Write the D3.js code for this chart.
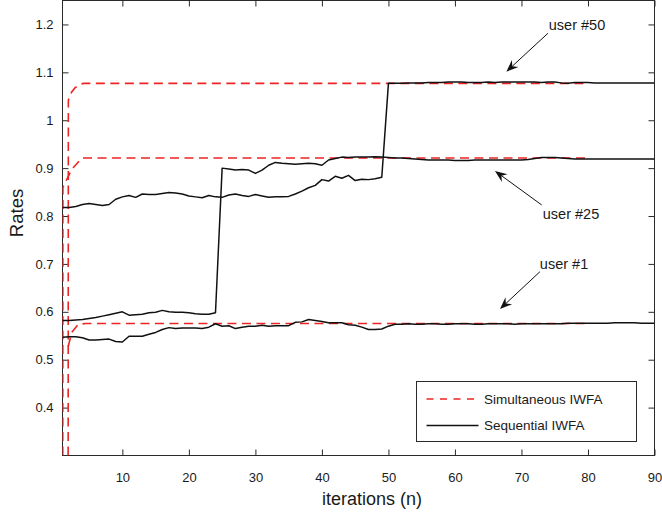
<!DOCTYPE html>
<html><head><meta charset="utf-8">
<script src="https://cdn.jsdelivr.net/npm/d3@7"></script>
<style>
body{margin:0;background:#fff;}
text{font-family:"Liberation Sans",Arial,Helvetica,sans-serif;fill:#1a1a1a;}
</style>
</head><body>
<svg id="chart" width="662" height="518"></svg>
<script>
// ---------- data ----------
const iterations = d3.range(1, 91);

const seqUser1 = [
0.547,0.548,0.548,0.546,0.541,0.541,0.542,0.543,0.538,0.537,
0.549,0.549,0.549,0.553,0.557,0.563,0.567,0.565,0.566,0.566,
0.566,0.565,0.568,0.575,0.570,0.571,0.565,0.568,0.570,0.570,
0.572,0.570,0.571,0.571,0.571,0.578,0.579,0.584,0.582,0.580,
0.577,0.577,0.577,0.573,0.572,0.568,0.563,0.563,0.564,0.570,
0.574,0.574,0.575,0.574,0.574,0.575,0.575,0.574,0.574,0.575,
0.575,0.575,0.574,0.574,0.575,0.575,0.575,0.575,0.574,0.575,
0.575,0.575,0.575,0.575,0.575,0.575,0.576,0.576,0.576,0.576,
0.576,0.576,0.576,0.577,0.577,0.577,0.577,0.576,0.576,0.576];

const seqUser25 = [
0.582,0.582,0.583,0.584,0.586,0.588,0.591,0.594,0.597,0.600,
0.593,0.594,0.595,0.598,0.599,0.603,0.600,0.599,0.599,0.598,
0.596,0.595,0.595,0.598,0.900,0.898,0.896,0.897,0.896,0.889,
0.896,0.906,0.912,0.910,0.909,0.908,0.909,0.910,0.909,0.906,
0.917,0.920,0.923,0.922,0.923,0.923,0.923,0.924,0.923,0.922,
0.921,0.921,0.920,0.919,0.918,0.917,0.917,0.917,0.917,0.916,
0.916,0.916,0.917,0.917,0.917,0.917,0.917,0.917,0.917,0.917,
0.918,0.920,0.922,0.922,0.922,0.921,0.920,0.919,0.919,0.919,
0.919,0.919,0.919,0.919,0.919,0.919,0.919,0.919,0.919,0.919];

const seqUser50 = [
0.818,0.818,0.820,0.824,0.826,0.824,0.822,0.824,0.835,0.840,
0.843,0.839,0.846,0.845,0.845,0.847,0.849,0.848,0.846,0.842,
0.840,0.838,0.843,0.840,0.839,0.844,0.846,0.843,0.841,0.845,
0.842,0.839,0.840,0.840,0.841,0.846,0.852,0.859,0.864,0.876,
0.873,0.883,0.879,0.885,0.874,0.877,0.876,0.878,0.881,1.077,
1.077,1.077,1.078,1.078,1.078,1.079,1.079,1.079,1.080,1.080,
1.080,1.079,1.079,1.079,1.080,1.079,1.080,1.080,1.080,1.080,
1.080,1.080,1.079,1.080,1.080,1.078,1.077,1.079,1.079,1.079,
1.078,1.078,1.078,1.078,1.078,1.078,1.078,1.078,1.078,1.078];

// Simultaneous IWFA (red dashed): x positions and values
const simX1  = [1.87, 2.38, 3.37, 4.5, 80];
const simUser1  = [0.528, 0.557, 0.574, 0.5755, 0.5755];
const simX25 = [1.04, 1.06, 1.63, 2.38, 3.9, 80];
const simUser25 = [0.30, 0.86, 0.876, 0.897, 0.921, 0.921];
const simX50 = [1.85, 1.88, 2.38, 2.9, 4.1, 80];
const simUser50 = [0.30, 1.042, 1.059, 1.068, 1.077, 1.077];

const xTicks = [10, 20, 30, 40, 50, 60, 70, 80, 90];
const yTicks = [0.4, 0.5, 0.6, 0.7, 0.8, 0.9, 1.0, 1.1, 1.2];
const yTickLabels = ["0.4","0.5","0.6","0.7","0.8","0.9","1","1.1","1.2"];

const legendLabels = ["Simultaneous IWFA", "Sequential IWFA"];

const annotationLabels = ["user #50", "user #25", "user #1"];
const annotationTextX = [78.35, 77.45, 76.4];
const annotationTextY = [1.1875, 0.7928, 0.6895];
const arrowFromX = [73.98, 73.04, 72.78];
const arrowFromY = [1.1816, 0.8231, 0.6838];
const arrowToX   = [67.73, 66.02, 66.77];
const arrowToY   = [1.1014, 0.8941, 0.6059];

// ---------- chart ----------
const L = 62.5, R = 654.5, T = 0.5, B = 455.5;
const svg = d3.select("#chart");
const x = d3.scaleLinear().domain([1, 90]).range([L, R]);
const y = d3.scaleLinear().domain([0.3, 1.25]).range([B, T]);

svg.append("defs").append("clipPath").attr("id","clip")
  .append("rect").attr("x", L).attr("y", T).attr("width", R-L).attr("height", B-T);

const frameColor = "#2a2a2a";
svg.append("rect").attr("x", L).attr("y", T).attr("width", R-L).attr("height", B-T)
  .attr("fill","none").attr("stroke", frameColor).attr("stroke-width", 1);

const tickLen = 6;
const gx = svg.append("g").attr("transform", `translate(0,${B})`)
  .call(d3.axisBottom(x).tickValues(xTicks).tickSizeInner(-tickLen).tickSizeOuter(0).tickPadding(17).tickFormat(d3.format("d")));
const gxTop = svg.append("g").attr("transform", `translate(0,${T})`)
  .call(d3.axisTop(x).tickValues(xTicks).tickSizeInner(-tickLen).tickSizeOuter(0).tickFormat(""));
const gy = svg.append("g").attr("transform", `translate(${L},0)`)
  .call(d3.axisLeft(y).tickValues(yTicks).tickSizeInner(-tickLen).tickSizeOuter(0).tickPadding(9)
    .tickFormat((d,i) => yTickLabels[i]));
const gyR = svg.append("g").attr("transform", `translate(${R},0)`)
  .call(d3.axisRight(y).tickValues(yTicks).tickSizeInner(-tickLen).tickSizeOuter(0).tickFormat(""));
[gx, gxTop, gy, gyR].forEach(g => {
  g.select(".domain").remove();
  g.selectAll(".tick line").attr("stroke", frameColor).attr("stroke-width", 1);
  g.selectAll(".tick text").attr("font-size", "13px").attr("fill", "#1a1a1a")
    .style("font-family", '"Liberation Sans", Arial, sans-serif');
});
gx.selectAll(".tick text").attr("dy", "0.71em");

svg.append("text").attr("x", 372).attr("y", 505).attr("text-anchor","middle")
  .attr("font-size","18px").text("iterations (n)");
svg.append("text").attr("transform","translate(23,213) rotate(-90)").attr("text-anchor","middle")
  .attr("font-size","18.5px").text("Rates");

const plot = svg.append("g").attr("clip-path","url(#clip)");
const line = d3.line().x(d => x(d[0])).y(d => y(d[1]));
const red = "#ee2424", black = "#111111";

[[simX1, simUser1], [simX25, simUser25], [simX50, simUser50]].forEach(([xs, vs]) => {
  plot.append("path").datum(xs.map((v,i) => [v, vs[i]]))
    .attr("d", line).attr("fill","none").attr("stroke", red)
    .attr("stroke-width", 1.6).attr("stroke-dasharray","9,5.5");
});
[seqUser1, seqUser25, seqUser50].forEach(vs => {
  plot.append("path").datum(iterations.map((it,i) => [it, vs[i]]))
    .attr("d", line).attr("fill","none").attr("stroke", black)
    .attr("stroke-width", 1.5).attr("stroke-linejoin","round");
});

annotationLabels.forEach((lab, i) => {
  svg.append("text").attr("x", x(annotationTextX[i])).attr("y", y(annotationTextY[i]))
    .attr("text-anchor","middle").attr("font-size","14.5px").text(lab);
  const x1 = x(arrowFromX[i]), y1 = y(arrowFromY[i]);
  const x2 = x(arrowToX[i]), y2 = y(arrowToY[i]);
  const ang = Math.atan2(y2 - y1, x2 - x1);
  const hl = 12, hw = 4.8, back = 8;
  const bx = x2 - hl*Math.cos(ang), by = y2 - hl*Math.sin(ang);
  const nx = x2 - back*Math.cos(ang), ny = y2 - back*Math.sin(ang);
  svg.append("line").attr("x1", x1).attr("y1", y1).attr("x2", nx).attr("y2", ny)
    .attr("stroke", black).attr("stroke-width", 1);
  const px = -Math.sin(ang), py = Math.cos(ang);
  svg.append("path").attr("d",
    `M${x2},${y2}L${bx+hw*px},${by+hw*py}L${nx},${ny}L${bx-hw*px},${by-hw*py}Z`)
    .attr("fill", black);
});

const lg = svg.append("g");
lg.append("rect").attr("x", 416.5).attr("y", 381.5).attr("width", 220).attr("height", 60)
  .attr("fill","#fff").attr("stroke", frameColor).attr("stroke-width", 1);
lg.append("line").attr("x1", 426.5).attr("x2", 478.5).attr("y1", 399).attr("y2", 399)
  .attr("stroke", red).attr("stroke-width", 1.6).attr("stroke-dasharray","7,6.5");
lg.append("line").attr("x1", 426.5).attr("x2", 478.5).attr("y1", 425.5).attr("y2", 425.5)
  .attr("stroke", black).attr("stroke-width", 1.5);
lg.append("text").attr("x", 484).attr("y", 403.5).attr("font-size","13.5px").text(legendLabels[0]);
lg.append("text").attr("x", 484).attr("y", 430).attr("font-size","13.5px").text(legendLabels[1]);
</script>
</body></html>
